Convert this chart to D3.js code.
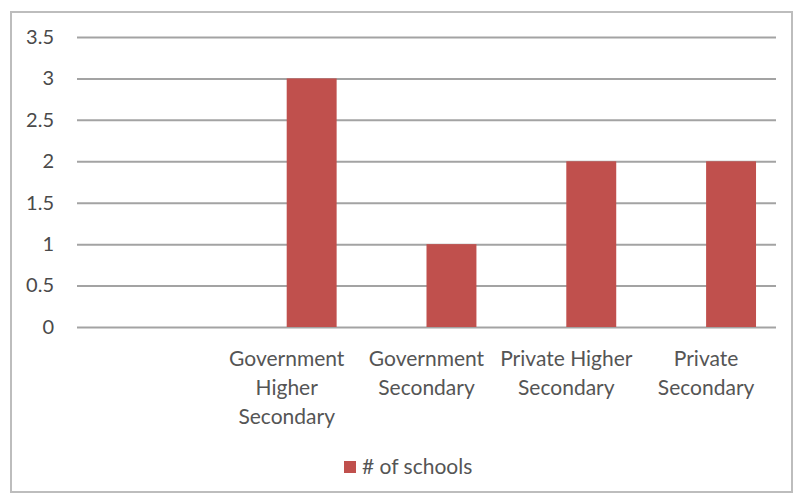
<!DOCTYPE html>
<html>
<head>
<meta charset="utf-8">
<script src="https://cdn.jsdelivr.net/npm/d3@7"></script>
<style>
  html, body { margin: 0; padding: 0; background: #fff; }
  svg { display: block; }
  text { font-family: Lato, "Open Sans", sans-serif; }
</style>
</head>
<body>
<svg id="chart" width="794" height="500"></svg>
<script>
// ---- data ----
const categories = ["", "Government Higher Secondary", "Government Secondary", "Private Higher Secondary", "Private Secondary"];
const categoryLines = [[], ["Government", "Higher", "Secondary"], ["Government", "Secondary"], ["Private Higher", "Secondary"], ["Private", "Secondary"]];
const seriesNames = ["", "# of schools"];
const blankValues = [null, null, null, null, null];
const schoolValues = [null, 3, 1, 2, 2];
const yTicks = [0, 0.5, 1, 1.5, 2, 2.5, 3, 3.5];

const series = [
  { name: seriesNames[0], values: blankValues, show: false },
  { name: seriesNames[1], values: schoolValues, show: true }
];

const svg = d3.select("#chart");

// chart border
svg.append("rect")
  .attr("x", 11).attr("y", 12).attr("width", 781).attr("height", 480)
  .attr("fill", "#fff").attr("stroke", "#bdbdbd").attr("stroke-width", 2);

const plot = { left: 77, right: 776, top: 37, bottom: 327 };

const x = d3.scaleBand().domain(categories).range([plot.left, plot.right]).paddingInner(0).paddingOuter(0);
const barW = x.bandwidth() / 2.8;
const x1 = d3.scaleBand().domain(seriesNames).range([0, barW * 2]);
const clusterOffset = (x.bandwidth() - barW * 2) / 2;
const y = d3.scaleLinear().domain([0, 3.5]).range([plot.bottom, plot.top]);

// gridlines via axis
const yAxis = d3.axisLeft(y).tickValues(yTicks).tickSize(-(plot.right - plot.left)).tickFormat(d3.format("~g")).tickPadding(23);
const gy = svg.append("g").attr("transform", `translate(${plot.left},0)`).call(yAxis);
gy.select(".domain").remove();
gy.selectAll(".tick line").attr("stroke", "#a3a3a3").attr("stroke-width", 2);
gy.selectAll(".tick text")
  .attr("fill", "#4a4a4a").attr("font-size", "20px")
  .style("font-family", "Lato, sans-serif");

// bars
series.filter(s => s.show).forEach(s => {
  svg.append("g").selectAll("rect")
    .data(s.values.map((v, i) => ({ v, c: categories[i] })).filter(d => d.v != null))
    .join("rect")
    .attr("x", d => x(d.c) + clusterOffset + x1(s.name))
    .attr("y", d => y(d.v))
    .attr("width", x1.bandwidth())
    .attr("height", d => y(0) - y(d.v))
    .attr("fill", "#C0504D");
});

// category labels
const xAxis = d3.axisBottom(x).tickSize(0).tickFormat("");
const gx = svg.append("g").attr("transform", `translate(0,${plot.bottom})`).call(xAxis);
gx.select(".domain").remove();
gx.selectAll(".tick").each(function(d, i) {
  const t = d3.select(this).append("text")
    .attr("text-anchor", "middle")
    .attr("fill", "#555")
    .attr("font-size", "21px");
  categoryLines[i].forEach((line, j) => {
    t.append("tspan").attr("x", 0).attr("y", 39 + j * 29).text(line);
  });
});

// legend
const lg = svg.append("g").attr("transform", "translate(344,461)");
lg.append("rect").attr("width", 12).attr("height", 12).attr("fill", "#C0504D");
lg.append("text").attr("x", 18).attr("y", 13).attr("fill", "#555").attr("font-size", "21px").text(seriesNames[1]);
</script>
</body>
</html>
